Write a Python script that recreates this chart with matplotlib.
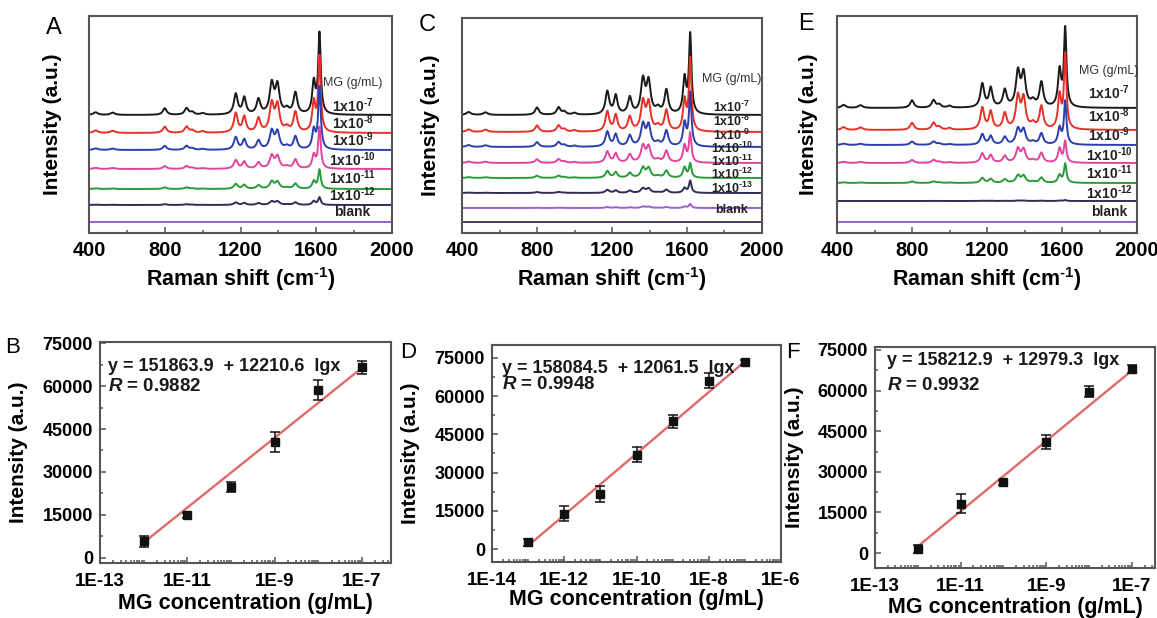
import numpy as np
import matplotlib
matplotlib.use('Agg')
import matplotlib.pyplot as plt
from matplotlib.ticker import AutoMinorLocator, LogLocator, NullFormatter, MultipleLocator

plt.rcParams['font.family'] = ['Liberation Sans', 'DejaVu Sans']
plt.rcParams['mathtext.fontset'] = 'custom'
plt.rcParams['mathtext.rm'] = 'Liberation Sans:bold'
plt.rcParams['mathtext.bf'] = 'Liberation Sans:bold'
plt.rcParams['mathtext.it'] = 'Liberation Sans:italic:bold'
plt.rcParams['mathtext.default'] = 'rm'

# --- Raman spectra (peak list, heights in px above baseline) ---
peak_pos = [435, 525, 800, 915, 945, 1000, 1175, 1220, 1295, 1365, 1395, 1445, 1490, 1587]
peak_rel = [0.08, 0.07, 0.2, 0.2, 0.08, 0.05, 0.62, 0.5, 0.45, 0.9, 0.85, 0.15, 0.65, 0.95]
peak_hw = [14, 14, 12, 12, 12, 12, 12, 11, 12, 13, 13, 14, 12, 10]
main_pos = 1617

labels_A = ['1x10$^{\\text{-}7}$', '1x10$^{\\text{-}8}$', '1x10$^{\\text{-}9}$', '1x10$^{\\text{-}10}$',
            '1x10$^{\\text{-}11}$', '1x10$^{\\text{-}12}$', 'blank']
base_A = [118, 100, 83, 64, 44, 28, 11]
main_A = [80, 75, 62, 41, 19, 7.5, 0]
rest_A = [33, 31, 20, 14, 8, 4, 0]

labels_C = labels_A[:6] + ['1x10$^{\\text{-}13}$', 'blank']
base_C = [118, 101, 86, 70, 55, 40, 25, 11]
main_C = [79, 72, 53, 29, 14, 12, 4, 0]
rest_C = [37, 32, 24, 18, 11, 5, 1.5, 0]

labels_E = labels_A
base_E = [125, 103, 88, 70, 50, 32, 11]
main_E = [78, 74, 43, 21, 19, 1, 0]
rest_E = [38, 35, 17, 15, 8, 0.5, 0]

colors7 = ['#1a1a1a', '#e8302a', '#2b3fae', '#e0459c', '#2a9a3a', '#2c2e58', '#9a5fd0']
colors8 = ['#1a1a1a', '#e8302a', '#2b3fae', '#e0459c', '#2a9a3a', '#2c2e58', '#9a5fd0', '#4a3c62']

# --- calibration curves ---
conc_B = [1e-12, 1e-11, 1e-10, 1e-9, 1e-8, 1e-7]
int_B = [5800, 14800, 24800, 40500, 58500, 66500]
err_B = [2000, 800, 1800, 3500, 3500, 2200]
fit_B = (151863.9, 12210.6, 0.9882)

conc_D = [1e-13, 1e-12, 1e-11, 1e-10, 1e-9, 1e-8, 1e-7]
int_D = [2600, 13900, 21600, 37000, 50100, 66100, 73300]
err_D = [1500, 3000, 3000, 3000, 2500, 3000, 1000]
fit_D = (158084.5, 12061.5, 0.9948)

conc_F = [1e-12, 1e-11, 1e-10, 1e-9, 1e-8, 1e-7]
int_F = [1500, 18200, 26100, 41000, 59600, 68000]
err_F = [1500, 3500, 1000, 2500, 2000, 1500]
fit_F = (158212.9, 12979.3, 0.9932)

W, H = 1157, 618
fig = plt.figure(figsize=(W / 100, H / 100), dpi=100)
SP = '#555555'


def box(l, t, r, b):
    return fig.add_axes([l / W, 1 - b / H, (r - l) / W, (b - t) / H])


def spectrum(x, rest, main):
    y = np.zeros_like(x)
    for p, r, w in zip(peak_pos, peak_rel, peak_hw):
        y += rest * r / (1 + ((x - p) / w) ** 2)
    y += main / (1 + ((x - main_pos) / 8.0) ** 2)
    return y


def style(ax):
    for s in ax.spines.values():
        s.set_color(SP)
        s.set_linewidth(1.5)
    ax.tick_params(which='both', direction='in', color=SP, width=1.1)
    ax.tick_params(which='major', length=4)
    ax.tick_params(which='minor', length=2)


def spectra_panel(pos, labels, base, main, rest, colors, lab_x, lab_y, mg_y, ylab_dx, lab_fs):
    ax = box(*pos)
    hpx = pos[3] - pos[1]
    x = np.linspace(400, 2000, 1601)
    for b, m, r, c in zip(base, main, rest, colors):
        ax.plot(x, b + spectrum(x, r, m), color=c, lw=1.4)
    ax.set_xlim(400, 2000)
    ax.set_ylim(0, hpx)
    ax.set_yticks([])
    ax.xaxis.set_major_locator(MultipleLocator(400))
    ax.xaxis.set_minor_locator(MultipleLocator(200))
    style(ax)
    ax.tick_params(axis='x', labelsize=14.5, pad=6)
    for t in ax.get_xticklabels():
        t.set_fontweight('bold')
    ax.set_xlabel('Raman shift (cm$^{\\text{-}1}$)', fontsize=15.5, fontweight='bold')
    ax.xaxis.set_label_coords(0.5, (pos[3] - 279) / hpx)
    ax.xaxis.label.set_va('center')
    ax.set_ylabel('Intensity (a.u.)', fontsize=15, fontweight='bold')
    ax.yaxis.set_label_coords(-ylab_dx / (pos[2] - pos[0]), 0.5)
    ax.yaxis.label.set_va('center')
    ax.text(lab_x, pos[3] - mg_y, 'MG (g/mL)', fontsize=9, ha='center', va='center', color='#333333')
    for lab, ly in zip(labels, lab_y):
        ax.text(lab_x, pos[3] - ly, lab, fontsize=lab_fs, fontweight='bold', ha='center', va='center',
                color='#222222')
    return ax


def calib_panel(pos, conc, inten, err, fit, xlim, ylim, xt, eq_xy, r_y, xlab_y):
    ax = box(*pos)
    a, b, r = fit
    xs = np.array([conc[0], conc[-1]])
    ax.plot(xs, a + b * np.log10(xs), color='#e06a6a', lw=1.7, zorder=2)
    ax.errorbar(conc, inten, yerr=err, fmt='s', color='#111111', ms=5.5, capsize=3.5, elinewidth=1.1,
                capthick=1.1, zorder=3)
    ax.set_xscale('log')
    ax.set_xlim(*xlim)
    ax.set_ylim(*ylim)
    ax.set_xticks(xt, ['1E-%d' % round(-np.log10(v)) for v in xt])
    ax.xaxis.set_minor_locator(LogLocator(base=10, subs=np.arange(1, 10), numticks=50))
    ax.xaxis.set_minor_formatter(NullFormatter())
    ax.set_yticks([0, 15000, 30000, 45000, 60000, 75000])
    ax.yaxis.set_minor_locator(AutoMinorLocator(2))
    style(ax)
    ax.tick_params(axis='x', labelsize=13.5, pad=7)
    ax.tick_params(axis='y', labelsize=13, pad=5)
    for t in ax.get_xticklabels() + ax.get_yticklabels():
        t.set_fontweight('bold')
    wpx = pos[2] - pos[0]
    hpx = pos[3] - pos[1]
    ax.set_xlabel('MG concentration (g/mL)', fontsize=15.5, fontweight='bold')
    ax.xaxis.set_label_coords(0.5, (pos[3] - xlab_y) / hpx)
    ax.xaxis.label.set_va('center')
    ax.set_ylabel('Intensity (a.u.)', fontsize=15, fontweight='bold')
    ax.yaxis.set_label_coords(-81 / wpx, 0.5)
    ax.yaxis.label.set_va('center')
    ax.text(eq_xy[0], eq_xy[1], 'y = %.1f  + %.1f  lgx' % (a, b), transform=ax.transAxes,
            fontsize=13, fontweight='bold', va='center', color='#1a1a1a')
    ax.text(eq_xy[0], r_y, '$\\mathit{R}$ = %.4f' % r, transform=ax.transAxes,
            fontsize=13.5, fontweight='bold', va='center', color='#1a1a1a')
    return ax


spectra_panel((89, 16, 392, 233), labels_A, base_A, main_A, rest_A, colors7,
              1790, [106, 123, 140, 160, 178, 195, 212], 83, 37, 10)
spectra_panel((462, 18, 762, 233), labels_C, base_C, main_C, rest_C, colors8,
              1840, [107, 121, 135, 148, 161, 174, 188, 210], 79, 32, 9)
spectra_panel((837, 16, 1137, 233), labels_E, base_E, main_E, rest_E, colors7,
              1851, [93, 116, 135, 155, 173, 193, 212], 71, 29, 10)

calib_panel((100, 342, 391, 563), conc_B, int_B, err_B, fit_B, (1e-13, 4.6e-7), (-1800, 75400),
            [1e-13, 1e-11, 1e-9, 1e-7], (0.027, 0.89), 0.80, 603)
calib_panel((492, 345, 781, 562), conc_D, int_D, err_D, fit_D, (1e-14, 1e-6), (-5100, 80100),
            [1e-14, 1e-12, 1e-10, 1e-8, 1e-6], (0.035, 0.894), 0.816, 599)
calib_panel((875, 347, 1155, 568), conc_F, int_F, err_F, fit_F, (1e-13, 3.5e-7), (-5500, 76100),
            [1e-13, 1e-11, 1e-9, 1e-7], (0.043, 0.94), 0.828, 608)

for letter, px, py, fs in [('A', 54, 28, 17), ('C', 427, 25, 17), ('E', 806, 24, 17),
                           ('B', 13, 347, 16), ('D', 408, 352, 16), ('F', 793, 352, 16)]:
    fig.text(px / W, 1 - py / H, letter, ha='center', va='center', fontsize=fs)

fig.savefig('out.png', dpi=100)
